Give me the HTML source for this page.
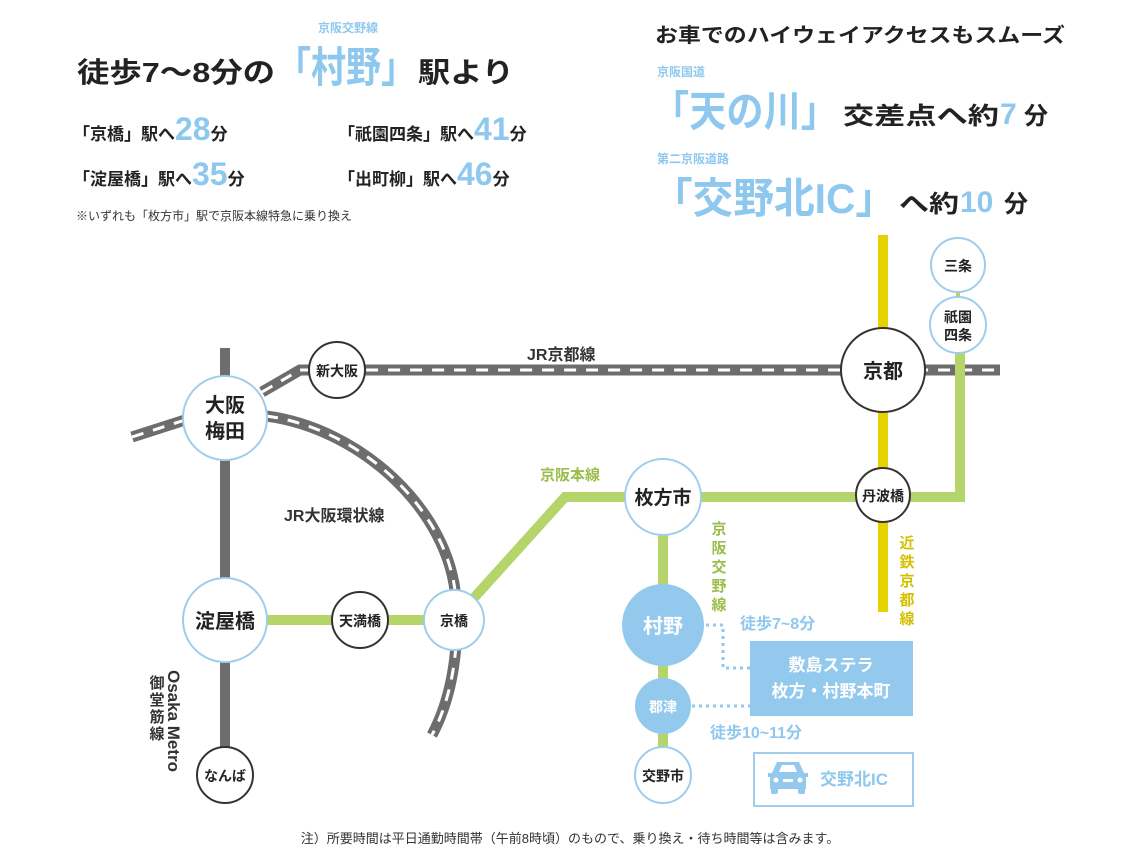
<!DOCTYPE html>
<html><head><meta charset="utf-8"><style>
body{margin:0;background:#fff;}
svg{display:block;font-family:"Liberation Sans","Noto Sans CJK JP",sans-serif;}
</style></head><body>
<svg width="1140" height="860" viewBox="0 0 1140 860" xmlns="http://www.w3.org/2000/svg">
<!-- Header left -->
<text x="318" y="32" font-size="12" fill="#8ec8ee" font-weight="bold">京阪交野線</text>
<g font-weight="bold">
<text x="77" y="82" font-size="28" fill="#222" textLength="198" lengthAdjust="spacingAndGlyphs">徒歩7〜8分の</text>
<text x="276" y="82" font-size="42" fill="#8ec8ee" textLength="140" lengthAdjust="spacingAndGlyphs">「村野」</text>
<text x="418" y="82" font-size="28" fill="#222" textLength="96" lengthAdjust="spacingAndGlyphs">駅より</text>
</g>
<g font-size="17" font-weight="bold" fill="#222">
<text x="73" y="140">「京橋」駅へ<tspan fill="#8ec8ee" font-size="32">28</tspan>分</text>
<text x="73" y="185">「淀屋橋」駅へ<tspan fill="#8ec8ee" font-size="32">35</tspan>分</text>
<text x="338" y="140">「祇園四条」駅へ<tspan fill="#8ec8ee" font-size="32">41</tspan>分</text>
<text x="338" y="185">「出町柳」駅へ<tspan fill="#8ec8ee" font-size="32">46</tspan>分</text>
</g>
<text x="76" y="220" font-size="12" fill="#333">※いずれも「枚方市」駅で京阪本線特急に乗り換え</text>
<!-- Header right -->
<text x="655" y="42" font-size="20" font-weight="bold" fill="#222" textLength="410" lengthAdjust="spacingAndGlyphs">お車でのハイウェイアクセスもスムーズ</text>
<text x="657" y="76" font-size="12" font-weight="bold" fill="#8ec8ee">京阪国道</text>
<g font-weight="bold">
<text x="652" y="126" font-size="42" fill="#8ec8ee" textLength="186" lengthAdjust="spacingAndGlyphs">「天の川」</text>
<text x="843" y="124" font-size="24" fill="#222" textLength="156" lengthAdjust="spacingAndGlyphs">交差点へ約</text>
<text x="1000" y="124" font-size="30" fill="#8ec8ee">7</text>
<text x="1024" y="124" font-size="24" fill="#222">分</text>
</g>
<text x="657" y="163" font-size="12" font-weight="bold" fill="#8ec8ee">第二京阪道路</text>
<g font-weight="bold">
<text x="652" y="213" font-size="42" fill="#8ec8ee" textLength="244" lengthAdjust="spacingAndGlyphs">「交野北IC」</text>
<text x="899" y="212" font-size="24" fill="#222" textLength="60" lengthAdjust="spacingAndGlyphs">へ約</text>
<text x="960" y="212" font-size="30" fill="#8ec8ee">10</text>
<text x="1004" y="212" font-size="24" fill="#222">分</text>
</g>

<!-- Lines -->
<line x1="225" y1="348" x2="225" y2="775" stroke="#6d6d6d" stroke-width="10"/>
<line x1="883" y1="235" x2="883" y2="612" stroke="#e6d200" stroke-width="10"/>
<path d="M262,392 L300,370 L1000,370" fill="none" stroke="#6d6d6d" stroke-width="11"/>
<path d="M262,392 L300,370 L1000,370" fill="none" stroke="#fff" stroke-width="3" stroke-dasharray="12,10"/>
<path d="M132,437 L185,420" fill="none" stroke="#6d6d6d" stroke-width="11"/>
<path d="M132,437 L185,420" fill="none" stroke="#fff" stroke-width="3" stroke-dasharray="12,10"/>
<path d="M266,416 C360,428 450,510 456,600 C460,660 448,705 432,735" fill="none" stroke="#6d6d6d" stroke-width="11"/>
<path d="M266,416 C360,428 450,510 456,600 C460,660 448,705 432,735" fill="none" stroke="#fff" stroke-width="3" stroke-dasharray="12,10"/>
<path d="M225,620 L454,620 L565,497 L960,497 L960,325" fill="none" stroke="#b5d46a" stroke-width="10"/>
<line x1="663" y1="497" x2="663" y2="775" stroke="#b5d46a" stroke-width="10"/>
<line x1="958" y1="265" x2="958" y2="325" stroke="#b5d46a" stroke-width="4"/>

<path d="M706,625 L723,625 L723,668 L750,668" fill="none" stroke="#94c9ee" stroke-width="3" stroke-dasharray="3,4"/>
<path d="M692,706 L750,706" fill="none" stroke="#94c9ee" stroke-width="3" stroke-dasharray="3,4"/>

<text x="527" y="360" font-size="16" font-weight="bold" fill="#333">JR京都線</text>
<text x="540" y="480" font-size="15" font-weight="bold" fill="#9bbd4a">京阪本線</text>
<text x="284" y="521" font-size="16" font-weight="bold" fill="#333">JR大阪環状線</text>
<g font-size="15" font-weight="bold" fill="#9bbd4a" text-anchor="middle">
<text x="719" y="534">京</text><text x="719" y="553">阪</text><text x="719" y="572">交</text><text x="719" y="591">野</text><text x="719" y="610">線</text>
</g>
<g font-size="15" font-weight="bold" fill="#d4c000" text-anchor="middle">
<text x="907" y="548">近</text><text x="907" y="567">鉄</text><text x="907" y="586">京</text><text x="907" y="605">都</text><text x="907" y="624">線</text>
</g>
<text transform="translate(168,670) rotate(90)" font-size="17" font-weight="bold" fill="#333">Osaka Metro</text>
<g font-size="15" font-weight="bold" fill="#333" text-anchor="middle">
<text x="157" y="688">御</text><text x="157" y="705">堂</text><text x="157" y="722">筋</text><text x="157" y="739">線</text>
</g>

<g font-weight="bold" text-anchor="middle">
<circle cx="225" cy="418" r="42" fill="#fff" stroke="#9fcdea" stroke-width="2"/>
<text x="225" y="412" font-size="20" fill="#222">大阪</text><text x="225" y="438" font-size="20" fill="#222">梅田</text>
<circle cx="337" cy="370" r="28" fill="#fff" stroke="#333" stroke-width="2"/>
<text x="337" y="376" font-size="14" fill="#222">新大阪</text>
<circle cx="883" cy="370" r="42" fill="#fff" stroke="#333" stroke-width="2"/>
<text x="883" y="378" font-size="20" fill="#222">京都</text>
<circle cx="958" cy="265" r="27" fill="#fff" stroke="#9fcdea" stroke-width="2"/>
<text x="958" y="271" font-size="14" fill="#222">三条</text>
<circle cx="958" cy="325" r="28" fill="#fff" stroke="#9fcdea" stroke-width="2"/>
<text x="958" y="322" font-size="14" fill="#222">祇園</text><text x="958" y="340" font-size="14" fill="#222">四条</text>
<circle cx="883" cy="495" r="27" fill="#fff" stroke="#333" stroke-width="2"/>
<text x="883" y="501" font-size="14" fill="#222">丹波橋</text>
<circle cx="663" cy="497" r="38" fill="#fff" stroke="#9fcdea" stroke-width="2"/>
<text x="663" y="504" font-size="19" fill="#222">枚方市</text>
<circle cx="225" cy="620" r="42" fill="#fff" stroke="#9fcdea" stroke-width="2"/>
<text x="225" y="628" font-size="20" fill="#222">淀屋橋</text>
<circle cx="360" cy="620" r="28" fill="#fff" stroke="#333" stroke-width="2"/>
<text x="360" y="626" font-size="14" fill="#222">天満橋</text>
<circle cx="454" cy="620" r="30" fill="#fff" stroke="#9fcdea" stroke-width="2"/>
<text x="454" y="626" font-size="14" fill="#222">京橋</text>
<circle cx="225" cy="775" r="28" fill="#fff" stroke="#333" stroke-width="2"/>
<text x="225" y="781" font-size="14" fill="#222">なんば</text>
<circle cx="663" cy="625" r="41" fill="#94c9ee"/>
<text x="663" y="633" font-size="20" fill="#fff">村野</text>
<circle cx="663" cy="706" r="28" fill="#94c9ee"/>
<text x="663" y="712" font-size="14" fill="#fff">郡津</text>
<circle cx="663" cy="775" r="28" fill="#fff" stroke="#9fcdea" stroke-width="2"/>
<text x="663" y="781" font-size="14" fill="#222">交野市</text>
</g>

<rect x="750" y="641" width="163" height="75" fill="#94c9ee"/>
<g font-weight="bold" text-anchor="middle" fill="#fff" font-size="17">
<text x="831" y="671">敷島ステラ</text><text x="831" y="697">枚方・村野本町</text>
</g>
<text x="740" y="629" font-size="16" font-weight="bold" fill="#8ec8ee">徒歩7~8分</text>
<text x="710" y="738" font-size="16" font-weight="bold" fill="#8ec8ee">徒歩10~11分</text>

<rect x="754" y="753" width="159" height="53" fill="#fff" stroke="#9fcdea" stroke-width="2"/>
<g fill="#94c9ee">
<path d="M772,773 L777,762 L799,762 L804,773 L808,773 L808,777 L806,777 L806,789 L770,789 L770,777 L768,777 L768,773 Z"/>
<rect x="771" y="787" width="7" height="7" rx="2"/><rect x="798" y="787" width="7" height="7" rx="2"/>
</g>
<path d="M779,772 L782,765 L794,765 L797,772 Z" fill="#fff"/>
<circle cx="776" cy="780" r="2.5" fill="#fff"/><circle cx="800" cy="780" r="2.5" fill="#fff"/>
<rect x="783" y="779" width="10" height="3" fill="#fff"/>
<text x="820" y="785" font-size="17" font-weight="bold" fill="#8ec8ee">交野北IC</text>

<text x="570" y="843" font-size="13" fill="#333" text-anchor="middle">注）所要時間は平日通勤時間帯（午前8時頃）のもので、乗り換え・待ち時間等は含みます。</text>
</svg>
</body></html>
